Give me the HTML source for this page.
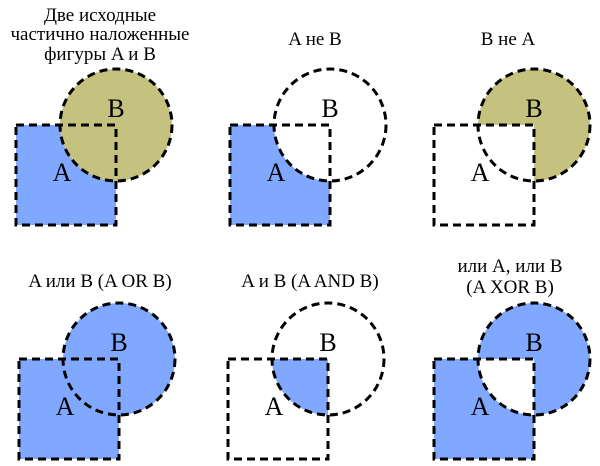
<!DOCTYPE html>
<html><head><meta charset="utf-8"><style>
html,body{margin:0;padding:0;background:#fff;}
svg{display:block;}
.t{font-size:19px;text-anchor:middle;}
.l{font-size:26px;text-anchor:middle;}
.d{fill:none;stroke:#000;stroke-width:3;stroke-dasharray:8,5;}
</style></head><body>
<svg width="600" height="466" viewBox="0 0 600 466" xmlns="http://www.w3.org/2000/svg" font-family="'Liberation Serif', 'Times New Roman', 'DejaVu Serif', serif">
<defs>
<clipPath id="sq"><rect x="-100" y="0" width="100" height="100"/></clipPath>
</defs>
<g font-family="'Liberation Serif', 'Times New Roman', serif" style="font-family:'Liberation Serif','Times New Roman',serif">
<text class="t" x="100" y="21">Две исходные</text>
<text class="t" x="100" y="40">частично наложенные</text>
<text class="t" x="100" y="60">фигуры A и B</text>
<text class="t" x="315" y="45">A не B</text>
<text class="t" x="508" y="45">B не A</text>
<text class="t" x="100" y="287">A или B (A OR B)</text>
<text class="t" x="310" y="287">A и B (A AND B)</text>
<text class="t" x="510" y="272">или A, или B</text>
<text class="t" x="510" y="293">(A XOR B)</text>
</g>
<g style="font-family:'Liberation Serif','Times New Roman',serif">
<g transform="translate(116,125)">
<rect x="-100" y="0" width="100" height="100" fill="#80a8ff"/>
<circle cx="0" cy="0" r="56" fill="#c5c27f"/>
<rect class="d" x="-100" y="0" width="100" height="100"/>
<circle class="d" cx="0" cy="0" r="56"/>
<text class="l" x="-54" y="56">A</text><text class="l" x="0" y="-8">B</text>
</g>
<g transform="translate(330,125)">
<rect x="-100" y="0" width="100" height="100" fill="#80a8ff"/>
<circle cx="0" cy="0" r="56" fill="#fff"/>
<rect class="d" x="-100" y="0" width="100" height="100"/>
<circle class="d" cx="0" cy="0" r="56"/>
<text class="l" x="-54" y="56">A</text><text class="l" x="0" y="-8">B</text>
</g>
<g transform="translate(534,125)">
<circle cx="0" cy="0" r="56" fill="#c5c27f"/>
<rect x="-100" y="0" width="100" height="100" fill="#fff"/>
<rect class="d" x="-100" y="0" width="100" height="100"/>
<circle class="d" cx="0" cy="0" r="56"/>
<text class="l" x="-54" y="56">A</text><text class="l" x="0" y="-8">B</text>
</g>
<g transform="translate(119,359)">
<rect x="-100" y="0" width="100" height="100" fill="#80a8ff"/>
<circle cx="0" cy="0" r="56" fill="#80a8ff"/>
<rect class="d" x="-100" y="0" width="100" height="100"/>
<circle class="d" cx="0" cy="0" r="56"/>
<text class="l" x="-54" y="56">A</text><text class="l" x="0" y="-8">B</text>
</g>
<g transform="translate(328,359)">
<circle cx="0" cy="0" r="56" fill="#80a8ff" clip-path="url(#sq)"/>
<rect class="d" x="-100" y="0" width="100" height="100"/>
<circle class="d" cx="0" cy="0" r="56"/>
<text class="l" x="-54" y="56">A</text><text class="l" x="0" y="-8">B</text>
</g>
<g transform="translate(534,359)">
<rect x="-100" y="0" width="100" height="100" fill="#80a8ff"/>
<circle cx="0" cy="0" r="56" fill="#80a8ff"/>
<circle cx="0" cy="0" r="56" fill="#fff" clip-path="url(#sq)"/>
<rect class="d" x="-100" y="0" width="100" height="100"/>
<circle class="d" cx="0" cy="0" r="56"/>
<text class="l" x="-54" y="56">A</text><text class="l" x="0" y="-8">B</text>
</g>
</g>
</svg>
</body></html>
